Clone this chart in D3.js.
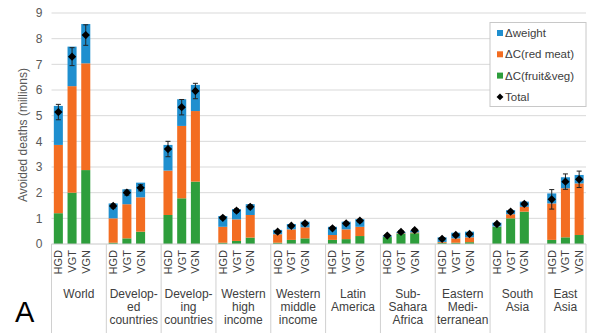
<!DOCTYPE html>
<html>
<head>
<meta charset="utf-8">
<script src="https://cdn.jsdelivr.net/npm/d3@7"></script>
<style>
  body { margin: 0; background: #fff; }
  svg { display: block; font-family: "Liberation Sans", Arial, sans-serif; }
</style>
</head>
<body>
<div id="chart"></div>
<script>
// regions and scenarios
const regions = [
  ["World"], ["Develop-", "ed", "countries"], ["Develop-", "ing", "countries"],
  ["Western", "high", "income"], ["Western", "middle", "income"], ["Latin", "America"],
  ["Sub-", "Sahara", "Africa"], ["Eastern", "Medi-", "terranean"], ["South", "Asia"], ["East", "Asia"]
];
const scenarios = ["HGD", "VGT", "VGN"];

// stacked parts, 3 per region (HGD, VGT, VGN), millions
const fruitVeg = [1.2, 2.0, 2.88, 0.05, 0.22, 0.48, 1.13, 1.78, 2.43, 0.05, 0.12, 0.25,
  0.05, 0.16, 0.22, 0.16, 0.19, 0.31, 0.27, 0.40, 0.42, 0.05, 0.05, 0.07,
  0.67, 1.0, 1.26, 0.16, 0.26, 0.35];
const redMeat = [2.66, 4.15, 4.16, 0.95, 1.33, 1.34, 1.73, 2.82, 2.75, 0.62, 0.84, 0.88,
  0.33, 0.41, 0.43, 0.19, 0.38, 0.36, 0.01, 0.02, 0.03, 0.03, 0.17, 0.19,
  0.01, 0.16, 0.19, 1.42, 1.91, 2.01];
const weight = [1.52, 1.54, 1.53, 0.58, 0.58, 0.57, 1.0, 1.04, 1.02, 0.42, 0.40, 0.42,
  0.17, 0.21, 0.22, 0.32, 0.30, 0.30, 0.05, 0.05, 0.07, 0.18, 0.22, 0.22,
  0.15, 0.16, 0.20, 0.39, 0.43, 0.33];
const totals = [5.14, 7.3, 8.14, 1.48, 2.0, 2.19, 3.7, 5.33, 5.96, 1.02, 1.3, 1.45,
  0.48, 0.71, 0.8, 0.61, 0.8, 0.91, 0.33, 0.47, 0.54, 0.2, 0.35, 0.39,
  0.78, 1.26, 1.56, 1.74, 2.43, 2.52];
const errors = [0.3, 0.35, 0.4, 0.08, 0.1, 0.12, 0.3, 0.3, 0.3, 0.06, 0.07, 0.08,
  0.05, 0.05, 0.06, 0.05, 0.06, 0.06, 0.04, 0.05, 0.05, 0.04, 0.05, 0.05,
  0.05, 0.06, 0.07, 0.38, 0.3, 0.32];
const yTicks = [0, 1, 2, 3, 4, 5, 6, 7, 8, 9];

const seriesNames = ["\u0394weight", "\u0394C(red meat)", "\u0394C(fruit&veg)", "Total"];
const colors = { fruitVeg: "#2e9e3c", redMeat: "#f36d21", weight: "#1f8fcf" };

const width = 600, height = 333;
const margin = { top: 13, right: 14, bottom: 89, left: 51.5 };

// slots: 3 bars per region plus a blank slot between regions
const slots = [];
regions.forEach((r, gi) => {
  scenarios.forEach(s => slots.push(gi + "-" + s));
  if (gi < regions.length - 1) slots.push(gi + "-gap");
});

const rows = [];
regions.forEach((r, gi) => scenarios.forEach((s, si) => {
  const i = gi * 3 + si;
  rows.push({ key: gi + "-" + s, scen: s, fruitVeg: fruitVeg[i], redMeat: redMeat[i],
    weight: weight[i], total: totals[i], err: errors[i] });
}));

const x = d3.scaleBand().domain(slots)
  .range([margin.left, width - margin.right])
  .paddingInner(0.34).paddingOuter(0.17);
const step = x.step();
const y = d3.scaleLinear().domain([0, 9]).range([height - margin.bottom, margin.top]);

const svg = d3.select("#chart").append("svg")
  .attr("width", width).attr("height", height);

// grid
svg.append("g").selectAll("line").data(yTicks.filter(d => d > 0)).join("line")
  .attr("x1", margin.left).attr("x2", width - margin.right)
  .attr("y1", d => y(d)).attr("y2", d => y(d))
  .attr("stroke", "#d9d9d9").attr("stroke-width", 1);

// y axis labels
const yAxis = svg.append("g")
  .attr("transform", "translate(" + (margin.left - 9) + ",0)")
  .call(d3.axisLeft(y).tickValues(yTicks).tickSize(0).tickPadding(0));
yAxis.select(".domain").remove();
yAxis.selectAll("text").attr("font-size", 12).attr("fill", "#595959")
  .attr("font-family", "Liberation Sans, Arial, sans-serif");

svg.append("text")
  .attr("transform", "translate(23," + 135 + ") rotate(-90)")
  .attr("text-anchor", "middle").attr("dominant-baseline", "central")
  .attr("font-size", 12).attr("fill", "#595959")
  .text("Avoided deaths (millions)");

// stacked bars
const stack = d3.stack().keys(["fruitVeg", "redMeat", "weight"]);
const layers = stack(rows);
svg.append("g").selectAll("g").data(layers).join("g")
  .attr("fill", d => colors[d.key])
  .selectAll("rect").data(d => d).join("rect")
  .attr("x", d => x(d.data.key))
  .attr("width", x.bandwidth())
  .attr("y", d => y(d[1]))
  .attr("height", d => y(d[0]) - y(d[1]));

// error bars
const eb = svg.append("g").attr("stroke", "#222").attr("stroke-width", 1);
rows.forEach(d => {
  const cx = x(d.key) + x.bandwidth() / 2;
  eb.append("line").attr("x1", cx).attr("x2", cx)
    .attr("y1", y(d.total - d.err)).attr("y2", y(d.total + d.err));
  [d.total - d.err, d.total + d.err].forEach(v => {
    eb.append("line").attr("x1", cx - 2.5).attr("x2", cx + 2.5)
      .attr("y1", y(v)).attr("y2", y(v));
  });
});

// total diamonds
const diamond = d3.symbol().type(d3.symbolDiamond2).size(44);
svg.append("g").selectAll("path").data(rows).join("path")
  .attr("d", diamond)
  .attr("transform", d => "translate(" + (x(d.key) + x.bandwidth() / 2) + "," + y(d.total) + ")")
  .attr("fill", "#000");

// category axis
const axisY = y(0);
svg.append("line").attr("x1", margin.left).attr("x2", width - margin.right)
  .attr("y1", axisY).attr("y2", axisY).attr("stroke", "#c8c8c8");

const bounds = regions.map((r, gi) => x(gi + "-HGD") - (step - x.bandwidth()) / 2);
bounds.push(width - margin.right);
svg.append("g").selectAll("line").data(bounds).join("line")
  .attr("x1", d => d).attr("x2", d => d)
  .attr("y1", axisY).attr("y2", height)
  .attr("stroke", "#d0d0d0");

svg.append("g").selectAll("text").data(rows).join("text")
  .attr("transform", d => "translate(" + (x(d.key) + x.bandwidth() / 2) + "," + (axisY + 6) + ") rotate(-90)")
  .attr("text-anchor", "end").attr("dominant-baseline", "central")
  .attr("font-size", 11).attr("fill", "#404040")
  .text(d => d.scen);

regions.forEach((lines, gi) => {
  const cx = (bounds[gi] + bounds[gi + 1]) / 2;
  const t = svg.append("text").attr("text-anchor", "middle")
    .attr("font-size", 12).attr("fill", "#404040");
  lines.forEach((ln, li) => t.append("tspan").attr("x", cx).attr("y", 298 + li * 13).text(ln));
});

// legend
const lg = svg.append("g").attr("transform", "translate(490,22.5)");
lg.append("rect").attr("width", 96).attr("height", 84)
  .attr("fill", "#fff").attr("stroke", "#c8c8c8");
const legendColors = [colors.weight, colors.redMeat, colors.fruitVeg, null];
seriesNames.forEach((name, i) => {
  const ly = 10.5 + i * 21.3;
  if (legendColors[i]) {
    lg.append("rect").attr("x", 7).attr("y", ly - 3).attr("width", 6).attr("height", 6)
      .attr("fill", legendColors[i]);
  } else {
    lg.append("path").attr("d", d3.symbol().type(d3.symbolDiamond2).size(30)())
      .attr("transform", "translate(10," + ly + ")")
      .attr("fill", "#000");
  }
  lg.append("text").attr("x", 15).attr("y", ly).attr("dominant-baseline", "central")
    .attr("font-size", 11.5).attr("fill", "#404040").text(name);
});

// panel letter
svg.append("text").attr("x", 15).attr("y", 322)
  .attr("font-size", 29).attr("fill", "#000").text("A");
</script>
</body>
</html>
